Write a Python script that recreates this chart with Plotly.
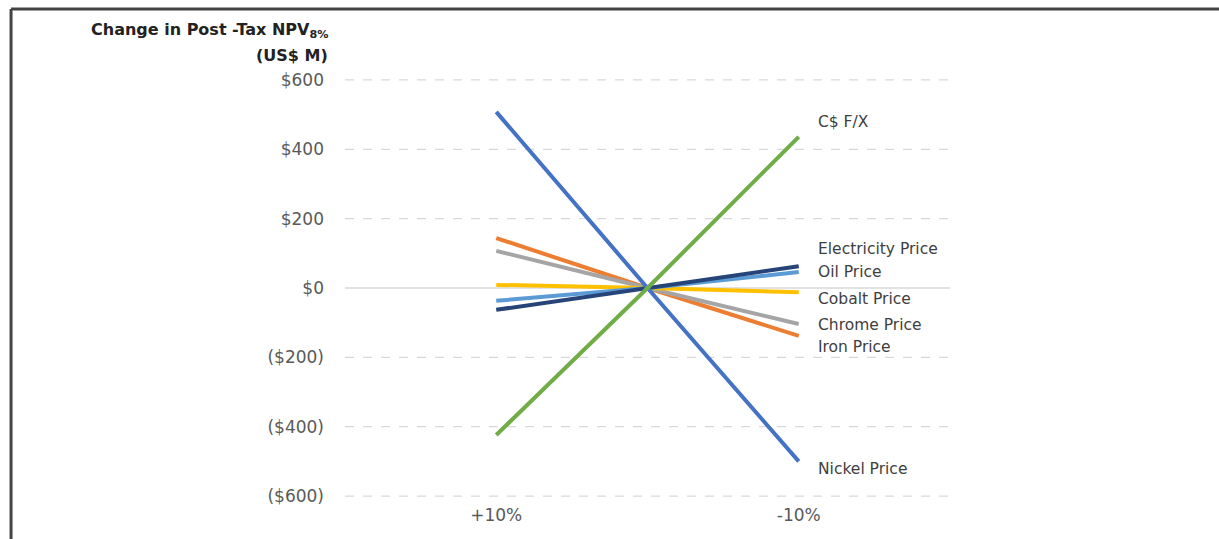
import plotly.graph_objects as go

# Sensitivity scenarios (x) and change in post-tax NPV (US$ M)
scenarios = ["+10%", "Base", "-10%"]
scenario_pos = [-1, 0, 1]

series_names = ["Nickel Price", "C$ F/X", "Iron Price", "Chrome Price",
                "Cobalt Price", "Oil Price", "Electricity Price"]
nickel = [508, 0, -500]
cad_fx = [-424, 0, 436]
iron = [144, 0, -138]
chrome = [107, 0, -104]
cobalt = [9, 0, -12]
oil = [-37, 0, 46]
electricity = [-63, 0, 63]

y_ticks = [600, 400, 200, 0, -200, -400, -600]
y_tick_text = ["$600", "$400", "$200", "$0", "($200)", "($400)", "($600)"]

FONT = "DejaVu Sans"

colors = {
    "Nickel Price": "#4472C4",
    "C$ F/X": "#70AD47",
    "Iron Price": "#ED7D31",
    "Chrome Price": "#A5A5A5",
    "Cobalt Price": "#FFC000",
    "Oil Price": "#5B9BD5",
    "Electricity Price": "#264478",
}
values = {
    "Nickel Price": nickel,
    "C$ F/X": cad_fx,
    "Iron Price": iron,
    "Chrome Price": chrome,
    "Cobalt Price": cobalt,
    "Oil Price": oil,
    "Electricity Price": electricity,
}
# vertical placement of the end labels (data units)
label_y = {
    "C$ F/X": 478,
    "Electricity Price": 112,
    "Oil Price": 46,
    "Cobalt Price": -32,
    "Chrome Price": -107,
    "Iron Price": -170,
    "Nickel Price": -522,
}

fig = go.Figure()
draw_order = ["Iron Price", "Chrome Price", "Cobalt Price", "Oil Price",
              "Electricity Price", "Nickel Price", "C$ F/X"]
for name in draw_order:
    fig.add_trace(go.Scatter(
        x=scenario_pos, y=values[name], mode="lines", name=name,
        line=dict(color=colors[name], width=4),
        hovertext=scenarios, showlegend=False,
    ))

# dashed gridlines, solid zero line
for v in y_ticks:
    fig.add_shape(type="line", xref="paper", yref="y", x0=0, x1=1, y0=v, y1=v,
                  line=dict(color="#D9D9D9", width=1.3,
                            dash="solid" if v == 0 else "dash"),
                  layer="below")

for name in series_names:
    fig.add_annotation(x=1, y=label_y[name], xref="x", yref="y",
                       text=name, showarrow=False, xanchor="left",
                       xshift=17, font=dict(size=15.5, color="#404040",
                                            family=FONT))

# axis title block
fig.add_annotation(xref="paper", yref="paper", x=-0.025, y=1.098,
                   text="<b>Change in Post -Tax NPV<sub>8%</sub></b>",
                   showarrow=False, xanchor="right", yanchor="middle",
                   font=dict(size=16, color="#222222", family=FONT))
fig.add_annotation(xref="paper", yref="paper", x=-0.025, y=1.04,
                   text="<b>(US$ M)</b>",
                   showarrow=False, xanchor="right", yanchor="middle",
                   font=dict(size=16, color="#222222", family=FONT))

# outer frame (top and left edges)
fig.add_shape(type="line", xref="paper", yref="paper",
              x0=-0.552, x1=1.5, y0=1.149, y1=1.149,
              line=dict(color="#444444", width=3))
fig.add_shape(type="line", xref="paper", yref="paper",
              x0=-0.552, x1=-0.552, y0=1.149, y1=-0.2,
              line=dict(color="#444444", width=3))

fig.update_layout(
    width=1219, height=539,
    margin=dict(l=345, r=269, t=73, b=36),
    paper_bgcolor="white", plot_bgcolor="white",
    xaxis=dict(range=[-2.0, 2.0], tickvals=[-1, 1],
               ticktext=[scenarios[0], scenarios[2]],
               showgrid=False, zeroline=False, showline=False,
               tickfont=dict(size=17, color="#595959", family=FONT),
               ticks=""),
    yaxis=dict(range=[-620, 620], tickvals=y_ticks, ticktext=y_tick_text,
               showgrid=False, zeroline=False, showline=False,
               ticklabelstandoff=20,
               tickfont=dict(size=17, color="#595959", family=FONT),
               ticks=""),
)

fig.write_html("out.html")
